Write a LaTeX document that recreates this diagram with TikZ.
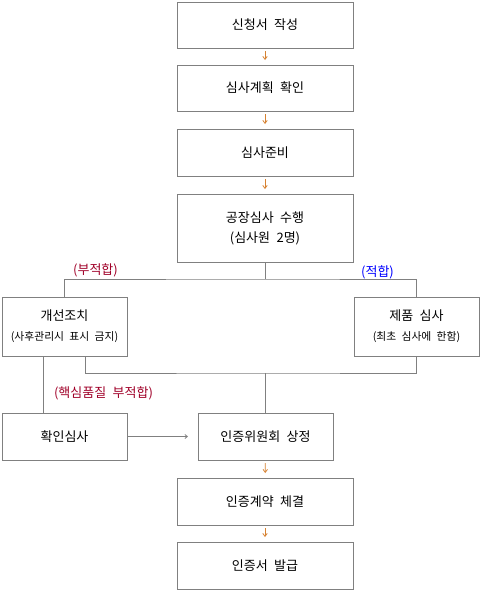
\documentclass[tikz,border=0pt]{standalone}
\usepackage{fontspec}
\setmainfont[WordSpace=2.2]{Noto Sans CJK KR}
\usetikzlibrary{positioning, calc, arrows.meta}
\definecolor{boxgray}{RGB}{128,128,128}
\definecolor{flowor}{RGB}{214,130,50}
\definecolor{ngred}{RGB}{160,0,40}
\definecolor{okblue}{RGB}{0,0,255}
\newcommand{\subsize}{\fontsize{10.8}{14}\selectfont}

\begin{document}
\begin{tikzpicture}[
        x=1pt, y=1pt,
        node distance=17pt and 20pt,
        stepbox/.style={rectangle, draw=boxgray, line width=1pt, minimum width=176pt, minimum height=46pt,
            inner sep=0pt, outer sep=0pt, align=center, font=\fontsize{13}{20}\selectfont},
        sidebox/.style={stepbox, minimum width=125pt, minimum height=59pt},
        flow/.style={-{Straight Barb[length=3pt, width=4.5pt]}, flowor, line width=0.8pt,
            shorten <=3pt, shorten >=5pt},
        link/.style={draw=boxgray, line width=1pt},
        caselabel/.style={font=\fontsize{13}{14}\selectfont, inner sep=0pt},
    ]
    \useasboundingbox (0,0) rectangle (484,-592);

    % ===== Main column =====
    \node[stepbox] (APPLY) at (265,-25) {신청서 작성};
    \node[stepbox, below=of APPLY] (PLAN) {심사계획 확인};
    \node[stepbox, minimum height=47pt, below=18pt of PLAN] (PREP) {심사준비};
    \node[stepbox, minimum height=68pt, below=18pt of PREP] (AUDIT)
        {공장심사 수행\\(심사원 2명)};

    \draw[flow] (APPLY) -- (PLAN);
    \draw[flow] (PLAN) -- (PREP);
    \draw[flow] (PREP) -- (AUDIT);

    % ===== Branches =====
    \coordinate[below=17pt of AUDIT] (SPLIT);
    \node[sidebox, below=35pt of AUDIT, xshift=-200.5pt] (FIX)
        {개선조치\\{\subsize (사후관리시 표시 금지)}};
    \node[sidebox, below=35pt of AUDIT, xshift=151.5pt] (PROD)
        {제품 심사\\{\subsize (최초 심사에 한함)}};

    \draw[link] (AUDIT) -- (SPLIT);
    \draw[link] (FIX.north) |- (SPLIT) -| (PROD.north);

    \node[caselabel, ngred] (NG_LABEL) at ($(FIX.north |- SPLIT)+(31,9)$) {(부적합)};
    \node[caselabel, okblue] (OK_LABEL) at ($(PROD.north |- SPLIT)+(-39,7)$) {(적합)};

    % ===== Lower row =====
    \node[stepbox, minimum height=47pt, minimum width=135pt, below=151pt of AUDIT, xshift=0.5pt] (COMMITTEE)
        {인증위원회 상정};
    \node[stepbox, minimum height=47pt, minimum width=125pt, below=57pt of FIX] (RECHECK) {확인심사};
    \coordinate[above=40pt of COMMITTEE] (MERGE);

    \draw[link] ([xshift=20.5pt]FIX.south) |- (MERGE) -| (PROD.south);
    \draw[link] (MERGE) -- (COMMITTEE);
    \draw[link] ([xshift=-21.5pt]FIX.south) -- ([xshift=-21.5pt]RECHECK.north);
    \node[caselabel, ngred] (CORE_LABEL) at ($(RECHECK.north)+(39,20)$) {(핵심품질 부적합)};

    \draw[link, -{Straight Barb[length=2.5pt, width=4pt]}, line width=0.8pt, shorten >=10pt]
        (RECHECK) -- (COMMITTEE);

    % ===== Final steps =====
    \node[stepbox, minimum height=47pt, below=18pt of COMMITTEE, xshift=-0.5pt] (CONTRACT) {인증계약 체결};
    \node[stepbox, minimum height=47pt, below=of CONTRACT] (CERT) {인증서 발급};

    \draw[flow] (COMMITTEE) -- (CONTRACT);
    \draw[flow] (CONTRACT) -- (CERT);

\end{tikzpicture}
\end{document}
